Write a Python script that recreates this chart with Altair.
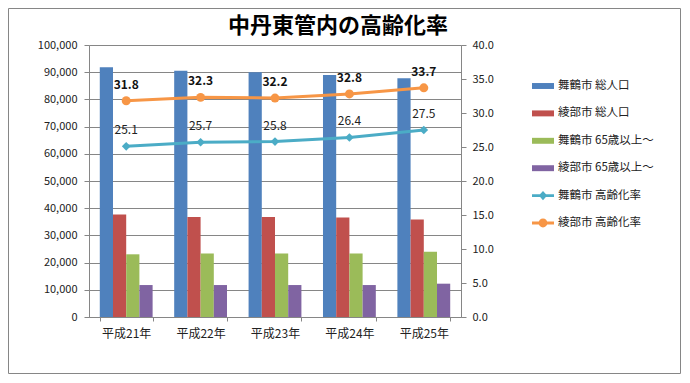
import altair as alt
import pandas as pd

years = ["平成21年", "平成22年", "平成23年", "平成24年", "平成25年"]
series_names = ["舞鶴市 総人口", "綾部市 総人口", "舞鶴市 65歳以上～", "綾部市 65歳以上～",
                "舞鶴市 高齢化率", "綾部市 高齢化率"]
maizuru_pop = [91800, 90550, 89950, 88950, 87750]
ayabe_pop = [37650, 36800, 36800, 36550, 35850]
maizuru_65 = [23050, 23350, 23350, 23350, 24000]
ayabe_65 = [11750, 11750, 11750, 11750, 12250]
maizuru_rate = [25.1, 25.7, 25.8, 26.4, 27.5]
ayabe_rate = [31.8, 32.3, 32.2, 32.8, 33.7]
colors = ["#4F81BD", "#C0504D", "#9BBB59", "#8064A2", "#4BACC6", "#F79646"]

FONT = "Noto Sans CJK JP"

bar_rows = []
for s, vals in zip(series_names[:4], [maizuru_pop, ayabe_pop, maizuru_65, ayabe_65]):
    for y, v in zip(years, vals):
        bar_rows.append({"year": y, "series": s, "value": v})
bars_df = pd.DataFrame(bar_rows)

line_rows = []
for s, vals in zip(series_names[4:], [maizuru_rate, ayabe_rate]):
    for y, v in zip(years, vals):
        line_rows.append({"year": y, "series": s, "rate": v, "label": f"{v:.1f}"})
lines_df = pd.DataFrame(line_rows)

color_scale = alt.Scale(domain=series_names, range=colors)
rect_path = "M-1,-0.27H1V0.27H-1Z"
diamond_path = "M-1,-0.13H1V0.13H-1Z M0,-0.42L0.38,0L0,0.42L-0.38,0Z"
circle_path = "M-1,-0.13H1V0.13H-1Z M-0.4,0A0.4,0.4 0 1,1 0.4,0A0.4,0.4 0 1,1 -0.4,0Z"
shape_scale = alt.Scale(domain=series_names,
                        range=[rect_path] * 4 + [diamond_path, circle_path])
legend = alt.Legend(title=None, orient="none", legendX=443, legendY=30,
                    symbolSize=484, rowPadding=10.4, labelOffset=4, padding=0,
                    labelFont=FONT, labelFontSize=11.5, labelColor="#222",
                    symbolStrokeWidth=0, symbolOpacity=1)

x_enc = alt.X("year:N", sort=years, title=None,
              scale=alt.Scale(paddingInner=0.29, paddingOuter=0.145),
              axis=alt.Axis(bandPosition=0, tickBand="extent", labelAngle=0,
                            domainColor="#868686", tickColor="#868686", tickSize=4,
                            labelPadding=7, labelFontSize=12, labelFont=FONT,
                            labelColor="#222", grid=False))

bars = alt.Chart(bars_df).mark_bar().encode(
    x=x_enc,
    xOffset=alt.XOffset("series:N", sort=series_names[:4],
                        scale=alt.Scale(paddingInner=0, paddingOuter=0)),
    y=alt.Y("value:Q", title=None,
            scale=alt.Scale(domain=[0, 100000]),
            axis=alt.Axis(values=list(range(0, 100001, 10000)), format=",.0f",
                          orient="left", grid=True, gridColor="#868686",
                          domainColor="#868686", tickColor="#868686", tickSize=5,
                          labelPadding=7, labelFontSize=11, labelFont=FONT,
                          labelColor="#222", labelOverlap=False)),
    color=alt.Color("series:N", scale=color_scale, legend=legend),
)

y_rate = alt.Y("rate:Q", title=None, scale=alt.Scale(domain=[0, 40]),
               axis=alt.Axis(values=[i * 5 for i in range(9)], format=".1f",
                             orient="right", grid=False,
                             domainColor="#868686", tickColor="#868686", tickSize=5,
                             labelPadding=6, labelFontSize=11, labelFont=FONT,
                             labelColor="#222", labelOverlap=False))

legend_layer = alt.Chart(lines_df).transform_filter("false").mark_point(
    filled=True, opacity=1).encode(
    x=x_enc,
    y=y_rate,
    color=alt.Color("series:N", scale=color_scale, legend=legend),
    shape=alt.Shape("series:N", scale=shape_scale, legend=legend),
)

base_line = alt.Chart(lines_df).encode(x=x_enc, y=y_rate)

line = base_line.mark_line(strokeWidth=3).encode(
    color=alt.Color("series:N", scale=color_scale, legend=legend))
pts_m = base_line.transform_filter(alt.datum.series == series_names[4]).mark_point(
    filled=True, size=75, shape="diamond", opacity=1).encode(
    color=alt.Color("series:N", scale=color_scale, legend=legend))
pts_a = base_line.transform_filter(alt.datum.series == series_names[5]).mark_point(
    filled=True, size=80, shape="circle", opacity=1).encode(
    color=alt.Color("series:N", scale=color_scale, legend=legend))
lab_m = base_line.transform_filter(alt.datum.series == series_names[4]).mark_text(
    dy=-16, fontSize=12, font=FONT, color="#222").encode(text="label:N")
lab_a = base_line.transform_filter(alt.datum.series == series_names[5]).mark_text(
    dy=-16, fontSize=12, font=FONT, fontWeight="bold", color="#111").encode(text="label:N")

rate_layer = alt.layer(line, pts_m, pts_a, lab_m, lab_a, legend_layer)

border = alt.Chart(pd.DataFrame({"a": [0]})).mark_rect(
    fill=None, stroke="#868686", strokeWidth=1).encode(
    x=alt.value(-80.5), x2=alt.value(591.5), y=alt.value(-36.5), y2=alt.value(328.5))

chart = alt.layer(bars, rate_layer, border).resolve_scale(y="independent").properties(
    width=372, height=272,
    autosize=alt.AutoSizeParams(type="none"),
    padding={"left": 81, "top": 37, "right": 220, "bottom": 57},
    title=alt.TitleParams("中丹東管内の高齢化率", fontSize=22, fontWeight="bold",
                          font=FONT, anchor="middle", dx=63, dy=40, offset=10,
                          color="#000"),
).configure_view(stroke=None).configure(background="white")

chart.save("out.html", embed_options={"renderer": "svg", "actions": False})
